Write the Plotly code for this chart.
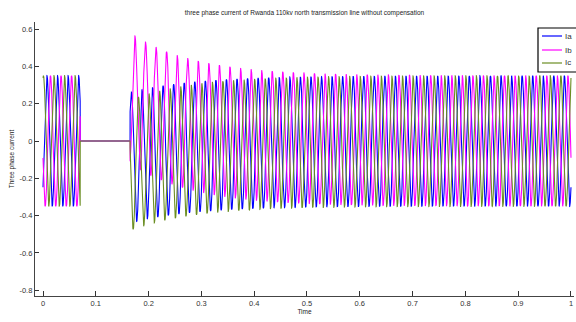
import numpy as np
import plotly.graph_objects as go

# ---- values ----
phase_names = ["Ia", "Ib", "Ic"]
phase_colors = ["#0000FF", "#FF00FF", "#6B8E23"]
freq_hz = 50.0                      # 0.02 s per cycle (counted on the picture)
amplitude = 0.35                    # steady peak value
phase_lag_deg = [135.0, 255.0, 15.0]   # Ia, Ib, Ic (Ic peaks just after t = 0)
open_time = 0.0705                  # currents drop to zero
reclose_time = 0.165                # currents come back
dc_offset_at_reclose = [-0.09, 0.23, -0.13]  # Ib first peak 0.57, Ic first trough -0.47
dc_decay_s = 0.12
t_end = 1.0
x_ticks = [0, 0.1, 0.2, 0.3, 0.4, 0.5, 0.6, 0.7, 0.8, 0.9, 1]
y_ticks = [-0.8, -0.6, -0.4, -0.2, 0, 0.2, 0.4, 0.6]
title_text = "three phase current of Rwanda 110kv north transmission line without compensation"

t = np.round(np.arange(0, t_end + 1e-9, 1e-4), 6)
w = 2 * np.pi * freq_hz

fig = go.Figure()
for name, col, lag, dc in zip(phase_names, phase_colors, phase_lag_deg, dc_offset_at_reclose):
    ac = amplitude * np.cos(w * t - np.deg2rad(lag))
    after = t >= reclose_time
    y = np.where(t < open_time, ac, 0.0)
    y = np.where(after, ac + dc * np.exp(-(t - reclose_time) / dc_decay_s), y)
    fig.add_trace(go.Scatter(x=t, y=y, mode="lines", name=name,
                             line=dict(color=col, width=1.1), showlegend=False))

L, R, T, B = 35, 2, 22, 26
W, H = 576, 322
pw, ph = W - L - R, H - T - B

def px(xp):
    return (xp - L) / pw

def py(yp):
    return (H - B - yp) / ph

shapes = [dict(type="rect", xref="paper", yref="paper",
               x0=px(538), x1=px(590), y0=py(72), y1=py(28),
               line=dict(color="black", width=1.2), fillcolor="white", layer="above")]
annotations = []
for i, (name, col) in enumerate(zip(phase_names, phase_colors)):
    yy = [36, 50, 63][i]
    shapes.append(dict(type="line", xref="paper", yref="paper",
                       x0=px(542), x1=px(562), y0=py(yy), y1=py(yy),
                       line=dict(color=col, width=1.2), layer="above"))
    annotations.append(dict(xref="paper", yref="paper", x=px(563), y=py(yy),
                            text=name, showarrow=False, xanchor="left", yanchor="middle",
                            font=dict(family="Liberation Sans", size=8, color="#333")))

axis_font = dict(family="Liberation Sans", size=7.5, color="#333")
fig.update_layout(
    width=W, height=H,
    margin=dict(l=L, r=R, t=T, b=B, autoexpand=False),
    paper_bgcolor="white", plot_bgcolor="white",
    title=dict(text=title_text, x=(L + pw / 2) / W, xanchor="center",
               y=1 - 13 / H, yanchor="middle",
               font=dict(family="Liberation Sans", size=6.5, color="#222")),
    xaxis=dict(range=[-0.01515, 1.0057], tickvals=x_ticks,
               ticktext=[str(v) for v in x_ticks],
               ticks="inside", ticklen=5, tickcolor="#333", tickwidth=1,
               showline=True, linecolor="#444", linewidth=1.2,
               showgrid=False, zeroline=False, tickfont=axis_font,
               title=dict(text="Time", font=dict(family="Liberation Sans", size=6.5, color="#222"),
                          standoff=2)),
    yaxis=dict(range=[-0.831, 0.638], tickvals=y_ticks,
               ticktext=[("%g" % v) for v in y_ticks],
               ticks="inside", ticklen=4, tickcolor="#333", tickwidth=1,
               showline=True, linecolor="#444", linewidth=1.2,
               showgrid=False, zeroline=False, tickfont=axis_font,
               title=dict(text="Three phase current", font=dict(family="Liberation Sans", size=6.5, color="#222"),
                          standoff=4)),
    shapes=shapes, annotations=annotations,
)

fig.write_html("out.html")
